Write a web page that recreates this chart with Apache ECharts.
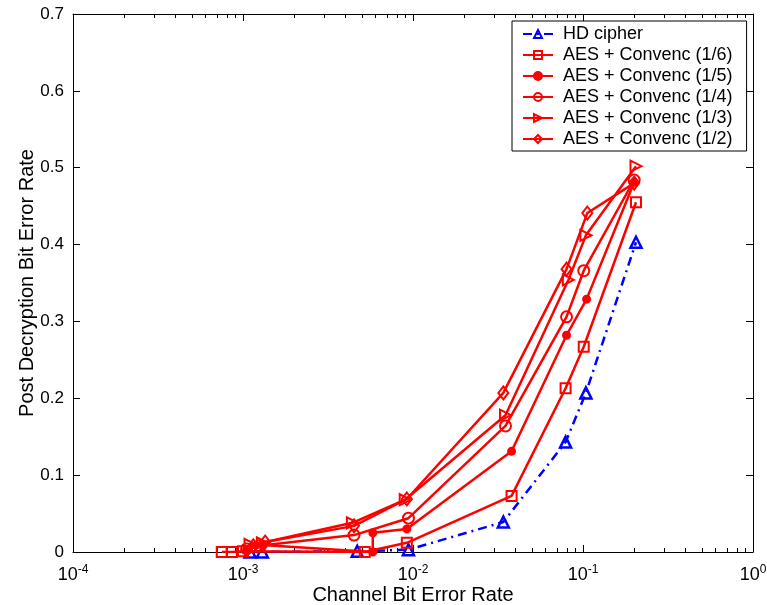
<!DOCTYPE html>
<html>
<head>
<meta charset="utf-8">
<script src="https://cdn.jsdelivr.net/npm/echarts@6/dist/echarts.min.js"></script>
<style>
html,body{margin:0;padding:0;background:#fff;}
#c{width:767px;height:605px;}
</style>
</head>
<body>
<div id="c"></div>
<script>
// ---- data (x = channel BER, y = post-decryption BER) ----
var hdCipher = [[1.1e-3,0],[1.3e-3,0],[4.7e-3,0.001],[9.4e-3,0.003],[0.034,0.039],[0.079,0.143],[0.104,0.207],[0.205,0.403]];
var aes16 = [[7.5e-4,0],[8.6e-4,0],[1.0e-3,0.001],[5.2e-3,0],[9.2e-3,0.012],[0.038,0.073],[0.079,0.213],[0.101,0.267],[0.205,0.455]];
var aes15 = [[1.05e-3,0.003],[1.3e-3,0.009],[5.8e-3,0],[5.8e-3,0.025],[9.2e-3,0.03],[0.038,0.131],[0.080,0.282],[0.105,0.329],[0.200,0.481]];
var aes14 = [[1.05e-3,0.004],[1.25e-3,0.008],[4.5e-3,0.022],[9.4e-3,0.044],[0.035,0.164],[0.080,0.306],[0.101,0.366],[0.200,0.484]];
var aes13 = [[1.1e-3,0.010],[1.3e-3,0.012],[4.4e-3,0.038],[9.0e-3,0.068],[0.035,0.178],[0.082,0.354],[0.104,0.412],[0.205,0.502]];
var aes12 = [[1.15e-3,0.008],[1.35e-3,0.013],[4.5e-3,0.034],[9.2e-3,0.069],[0.034,0.207],[0.080,0.368],[0.106,0.441],[0.200,0.480]];
var seriesNames = ['HD cipher','AES + Convenc (1/6)','AES + Convenc (1/5)','AES + Convenc (1/4)','AES + Convenc (1/3)','AES + Convenc (1/2)'];
var xMinorTicks = [];
[1e-4,1e-3,1e-2,1e-1].forEach(function(d){ for (var k=2;k<=9;k++) xMinorTicks.push([d*k,0]); });
var yTicks = [0,0.1,0.2,0.3,0.4,0.5,0.6,0.7];

var RED = '#ff0000', BLUE = '#0000ff';
var FONT = 'Liberation Sans';

function redSeries(name, data, symbol, size, rotate, filled) {
  return {
    name: name, type: 'line', data: data,
    symbol: symbol, symbolSize: size, symbolRotate: rotate || 0,
    lineStyle: {color: RED, width: 2.5},
    itemStyle: {color: filled ? RED : 'rgba(255,255,255,0)', borderColor: RED, borderWidth: 2},
    emphasis: {disabled: true}, animation: false, z: 3
  };
}

var chart = echarts.init(document.getElementById('c'));
var axisCommon = {
  axisLine: {show: true, onZero: false, lineStyle: {color: '#000', width: 1}},
  axisTick: {show: true, inside: true, length: 7, lineStyle: {color: '#000'}},
  splitLine: {show: false}
};
chart.setOption({
  backgroundColor: '#fff',
  animation: false,
  textStyle: {fontFamily: FONT},
  grid: {left: 73, right: 14, top: 14, bottom: 53, containLabel: false, outerBoundsMode: 'none'},
  legend: {
    data: seriesNames,
    orient: 'vertical', left: 512, top: 21,
    itemWidth: 30, itemHeight: 10, itemGap: 3,
    padding: [4, 14, 3, 10],
    borderColor: '#000', borderWidth: 1, backgroundColor: '#fff',
    textStyle: {fontFamily: FONT, fontSize: 18, color: '#000', lineHeight: 18, padding: [0, 0, 0, 5]}
  },
  xAxis: [
    Object.assign({
      type: 'log', logBase: 10, min: 1e-4, max: 1, position: 'bottom',
      name: 'Channel Bit Error Rate', nameLocation: 'middle', nameGap: 33, nameMoveOverlap: false,
      nameTextStyle: {fontFamily: FONT, fontSize: 20, color: '#000'},
      axisLabel: {
        margin: 12, color: '#000',
        formatter: function (v) {
          var e = Math.round(Math.log10(v));
          return '{b|10}{s|' + e + '}';
        },
        rich: {
          b: {fontFamily: FONT, fontSize: 18, color: '#000'},
          s: {fontFamily: FONT, fontSize: 12, color: '#000', padding: [0, 0, 10, 0]}
        }
      }
    }, axisCommon),
    Object.assign({
      type: 'log', logBase: 10, min: 1e-4, max: 1, position: 'top',
      axisLabel: {show: false}
    }, axisCommon)
  ],
  yAxis: [
    Object.assign({
      type: 'value', min: 0, max: 0.7, interval: 0.1, position: 'left',
      name: 'Post Decryption Bit Error Rate', nameLocation: 'middle', nameGap: 36, nameMoveOverlap: false,
      nameTextStyle: {fontFamily: FONT, fontSize: 20, color: '#000'},
      axisLabel: {margin: 9, color: '#000', fontFamily: FONT, fontSize: 17,
        formatter: function (v) { return String(Math.round(v * 10) / 10); }}
    }, axisCommon),
    Object.assign({
      type: 'value', min: 0, max: 0.7, interval: 0.1, position: 'right',
      axisLabel: {show: false}
    }, axisCommon)
  ],
  series: [
    {
      type: 'custom', name: 'minorTicks', data: xMinorTicks, silent: true, z: 1,
      encode: {x: 0, y: 1},
      renderItem: function (params, api) {
        var v = api.value(0);
        var pb = api.coord([v, 0]);
        var pt = api.coord([v, 0.7]);
        var s = {stroke: '#000', lineWidth: 1};
        return {type: 'group', children: [
          {type: 'line', shape: {x1: Math.round(pb[0]) + 0.5, y1: pb[1], x2: Math.round(pb[0]) + 0.5, y2: pb[1] - 4}, style: s},
          {type: 'line', shape: {x1: Math.round(pt[0]) + 0.5, y1: pt[1], x2: Math.round(pt[0]) + 0.5, y2: pt[1] + 4}, style: s}
        ]};
      }
    },
    {
      name: seriesNames[0], type: 'line', data: hdCipher,
      symbol: 'triangle', symbolSize: 11,
      lineStyle: {color: BLUE, width: 2.5, type: [9, 5, 2, 5]},
      itemStyle: {color: 'rgba(255,255,255,0)', borderColor: BLUE, borderWidth: 2.5},
      emphasis: {disabled: true}, z: 2
    },
    redSeries(seriesNames[1], aes16, 'rect', 10, 0, false),
    redSeries(seriesNames[2], aes15, 'circle', 7, 0, true),
    redSeries(seriesNames[3], aes14, 'circle', 11, 0, false),
    redSeries(seriesNames[4], aes13, 'triangle', 11, -90, false),
    redSeries(seriesNames[5], aes12, 'diamond', [10, 13], 0, false)
  ]
});
</script>
</body>
</html>
